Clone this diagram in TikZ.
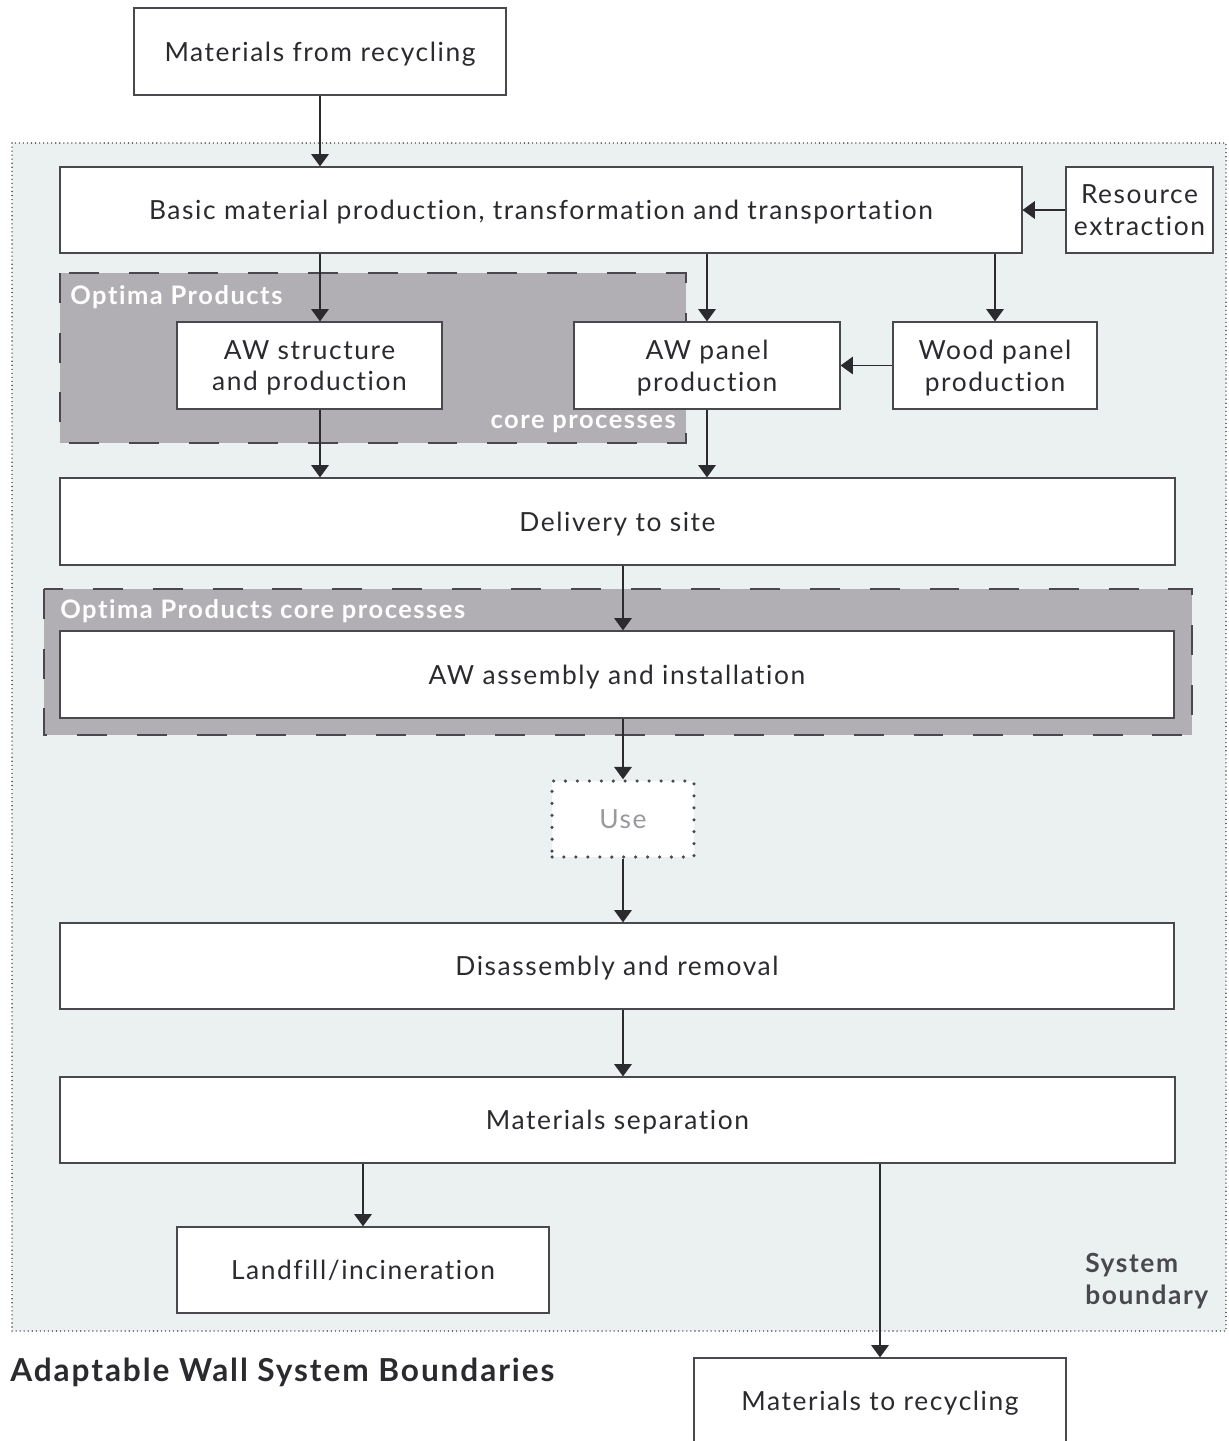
\documentclass[tikz,border=0pt]{standalone}
\usepackage{fontspec}
\setmainfont{Lato}[LetterSpace=6, Ligatures={NoCommon}, RawFeature={-liga;-clig;-dlig}]
\usetikzlibrary{arrows.meta, positioning}
\definecolor{sysbg}{HTML}{EBF1F1}
\definecolor{corebg}{HTML}{B1AFB3}
\definecolor{ink}{HTML}{2B2A2E}
\definecolor{edge}{HTML}{4A484F}
\definecolor{usegray}{HTML}{9A999E}

\begin{document}
\begin{tikzpicture}[
    x=0.02cm, y=-0.02cm,
    font=\fontsize{15}{18}\selectfont,
    box/.style={rectangle, draw=edge, line width=0.7pt, fill=white, text=ink, align=center, inner sep=0pt, text depth=0pt},
    core/.style={draw=edge, fill=corebg, line width=1.1pt, dash pattern=on 17pt off 17pt},
    corelabel/.style={text=white, font=\fontsize{14.5}{18}\selectfont\bfseries, inner sep=0pt},
    arrow/.style={-{Triangle[width=10pt,length=7pt]}, line width=0.7pt, draw=ink}
]
    \useasboundingbox (0,0) rectangle (1228,1441);
    \clip (0,0) rectangle (1228,1441);

    % system boundary
    \draw[fill=sysbg, draw=edge, line width=0.9pt, dash pattern=on 0pt off 2.3pt, line cap=round] (12,143) rectangle (1226,1331);
    \node[text=edge, font=\fontsize{15}{18}\selectfont\bfseries, align=left, anchor=west, inner sep=0pt] (sysb) at (1085,1281) {System\\boundary};

    % core process areas
    \draw[core] (60,273) rectangle (686,443);
    \node[corelabel, anchor=west] (core1a) at (70,297) {Optima Products};
    \node[corelabel, anchor=east] (core1b) at (676,424) {core processes};
    \draw[core] (44,589) rectangle (1192,735);
    \node[corelabel, anchor=west] (core2) at (60,611) {Optima Products core processes};

    % process boxes
    \node[box, minimum width=7.44cm, minimum height=1.74cm] (recin) at (320,51.5) {Materials from recycling};
    \node[box, minimum width=19.24cm, minimum height=1.72cm] (basic) at (541,210) {Basic material production, transformation and transportation};
    \node[box, minimum width=2.94cm, minimum height=1.72cm] (resource) at (1139.5,210) {Resource\\extraction};
    \node[box, minimum width=5.3cm, minimum height=1.74cm] (awstruct) at (309.5,365.5) {AW structure\\and production};
    \node[box, minimum width=5.32cm, minimum height=1.74cm] (awpanel) at (707,365.5) {AW panel\\production};
    \node[box, minimum width=4.08cm, minimum height=1.74cm] (wood) at (995,365.5) {Wood panel\\production};
    \node[box, minimum width=22.3cm, minimum height=1.74cm] (delivery) at (617.5,521.5) {Delivery to site};
    \node[box, minimum width=22.28cm, minimum height=1.74cm] (assembly) at (617,674.5) {AW assembly and installation};
    \node[box, draw=edge, line width=2pt, dash pattern=on 0pt off 6.8pt, line cap=round, text=usegray, minimum width=2.84cm, minimum height=1.52cm] (use) at (623,819) {Use};
    \node[box, minimum width=22.28cm, minimum height=1.72cm] (disasm) at (617,966) {Disassembly and removal};
    \node[box, minimum width=22.3cm, minimum height=1.72cm] (separation) at (617.5,1120) {Materials separation};
    \node[box, minimum width=7.44cm, minimum height=1.72cm] (landfill) at (363,1270) {Landfill/incineration};
    \node[box, minimum width=7.44cm, minimum height=1.72cm] (recout) at (880,1401) {Materials to recycling};

    % title
    \node[text=ink, font=\fontsize{18}{22}\selectfont\bfseries, anchor=west, inner sep=0pt] (title) at (10,1372) {Adaptable Wall System Boundaries};

    % flows
    \draw[arrow] (recin) -- (basic.north -| recin);
    \draw[arrow] (resource) -- (basic);
    \draw[arrow] (basic.south -| recin) -- (awstruct.north -| recin);
    \draw[arrow] (basic.south -| awpanel) -- (awpanel);
    \draw[arrow] (basic.south -| wood) -- (wood);
    \draw[arrow] (wood) -- (awpanel);
    \draw[arrow] (awstruct.south -| recin) -- (delivery.north -| recin);
    \draw[arrow] (awpanel) -- (delivery.north -| awpanel);
    \draw[arrow] (delivery.south -| use) -- (assembly.north -| use);
    \draw[arrow] (assembly.south -| use) -- (use);
    \draw[arrow] (use) -- (disasm.north -| use);
    \draw[arrow] (disasm.south -| use) -- (separation.north -| use);
    \draw[arrow] (separation.south -| landfill) -- (landfill);
    \draw[arrow] (separation.south -| recout) -- (recout);
\end{tikzpicture}
\end{document}
